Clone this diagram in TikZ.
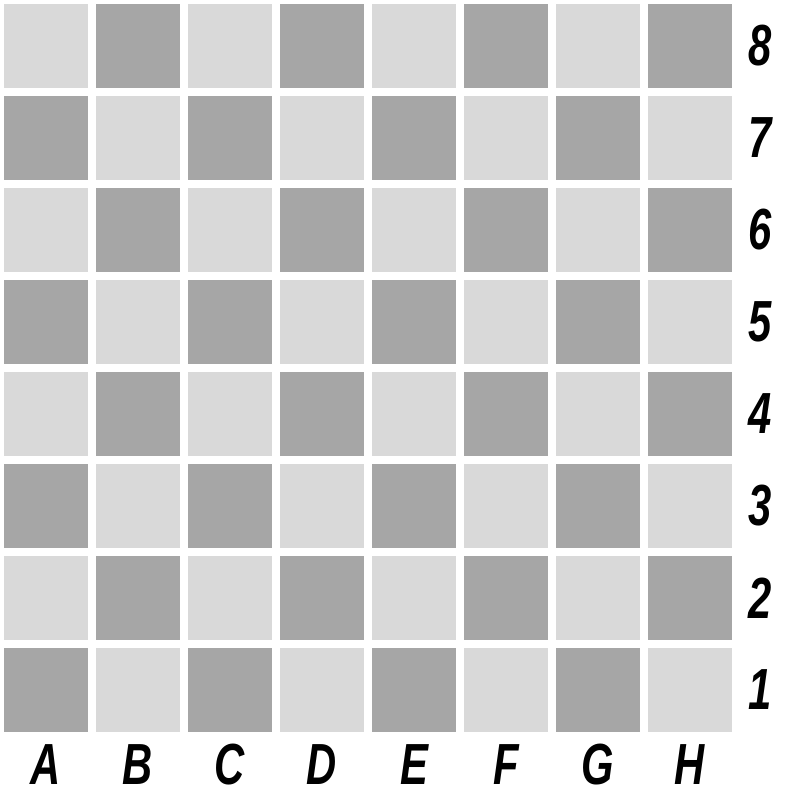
\documentclass[tikz,border=0pt]{standalone}
\usepackage{fontspec}
\setmainfont{Liberation Sans}
\usepackage{tikz}
\usepackage{xcolor}
\usepackage{graphicx}
\definecolor{lightsq}{HTML}{D9D9D9}
\definecolor{darksq}{HTML}{A6A6A6}
\newcommand{\narrowlabel}[1]{\scalebox{0.72}[1]{#1}}

\begin{document}
\begin{tikzpicture}[x=1cm,y=1cm,
        coordlabel/.style={font=\fontsize{16.5}{16.5}\selectfont\bfseries\itshape,inner sep=0pt}]
        \useasboundingbox[fill=white] (0,0) rectangle (8,8);
        % squares of the board
        \foreach \c in {1,...,8}{
            \foreach \r in {1,...,8}{
                \pgfmathtruncatemacro{\sqcol}{mod(\c+\r,2)}
                \ifnum\sqcol=0
                    \fill[darksq] ({0.04+(\c-1)*0.92},{0.68+(\r-1)*0.92}) rectangle ++(0.84,0.84);
                \else
                    \fill[lightsq] ({0.04+(\c-1)*0.92},{0.68+(\r-1)*0.92}) rectangle ++(0.84,0.84);
                \fi
            }
        }
        % ranks on the right
        \foreach \r in {1,...,8}{
            \node[coordlabel] (rank\r) at (7.6,{1.10+(\r-1)*0.92}) {\narrowlabel{\r}};
        }
        % files below
        \foreach \f [count=\c] in {A,B,C,D,E,F,G,H}{
            \node[coordlabel] (file\f) at ({0.46+(\c-1)*0.92},0.35) {\narrowlabel{\f}};
        }
    \end{tikzpicture}
\end{document}
